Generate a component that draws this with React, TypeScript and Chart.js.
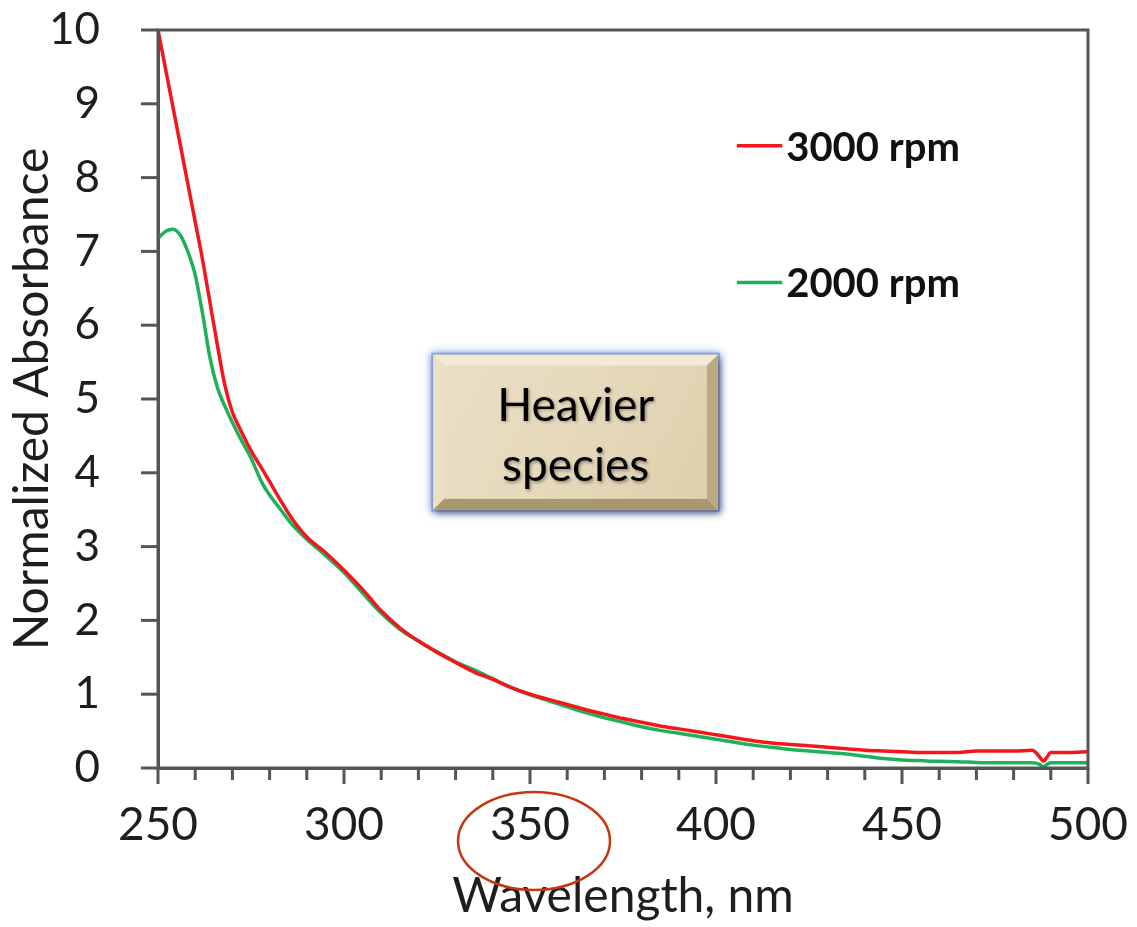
import React, { useEffect, useRef } from 'react';
import { Chart, registerables } from 'chart.js';

Chart.register(...registerables);

// ---- data ----
const wavelengths = [
  250, 252, 254, 256, 258, 260, 262, 264, 266, 268, 270, 272, 275, 278, 280, 283, 286, 290, 295,
  300, 305, 310, 315, 320, 325, 330, 335, 340, 345, 350, 355, 360, 365, 370, 375, 380, 385, 390,
  395, 400, 405, 410, 415, 420, 425, 430, 435, 440, 445, 450, 455, 460, 465, 470, 475, 480, 485,
  487, 488, 489, 490, 495, 500,
];

const rpm3000 = [
  10.0, 9.48, 8.96, 8.44, 7.92, 7.4, 6.88, 6.3, 5.72, 5.18, 4.82, 4.6, 4.3, 4.05, 3.88, 3.62, 3.38,
  3.13, 2.92, 2.68, 2.42, 2.13, 1.9, 1.72, 1.57, 1.43, 1.3, 1.2, 1.09, 1.0, 0.93, 0.86, 0.79, 0.73,
  0.67, 0.62, 0.57, 0.53, 0.49, 0.45, 0.41, 0.37, 0.34, 0.32, 0.3, 0.28, 0.26, 0.24, 0.23, 0.22,
  0.21, 0.21, 0.21, 0.23, 0.23, 0.23, 0.24, 0.15, 0.09, 0.15, 0.21, 0.21, 0.22,
];

const rpm2000 = [
  7.18, 7.27, 7.3, 7.22, 7.0, 6.68, 6.15, 5.55, 5.15, 4.9, 4.68, 4.48, 4.2, 3.86, 3.7, 3.5, 3.3,
  3.1, 2.88, 2.65, 2.37, 2.1, 1.88, 1.72, 1.57, 1.44, 1.33, 1.21, 1.09, 0.99, 0.91, 0.83, 0.75,
  0.68, 0.62, 0.56, 0.51, 0.47, 0.43, 0.39, 0.35, 0.31, 0.28, 0.25, 0.23, 0.21, 0.19, 0.16, 0.13,
  0.11, 0.1, 0.09, 0.085, 0.075, 0.07, 0.07, 0.07, 0.05, 0.02, 0.05, 0.07, 0.07, 0.07,
];

const seriesLabels = ['3000 rpm', '2000 rpm'];
const seriesColors = ['#f5161b', '#1fb15a'];
const xMajorTicks = [250, 300, 350, 400, 450, 500];
const annotationLines = ['Heavier', 'species'];
const xTitle = 'Wavelength, nm';
const yTitle = 'Normalized Absorbance';

const FONT = 'Lato, "Open Sans", sans-serif';
const AXIS_COLOR = '#555555';
const TEXT_COLOR = '#1e1e1e';

const decorPlugin = {
  id: 'decor',
  afterDraw(chart: any) {
    const { ctx, chartArea: a, scales } = chart;
    const x = scales.x;
    const y = scales.y;
    ctx.save();

    // frame
    ctx.strokeStyle = AXIS_COLOR;
    ctx.lineWidth = 3;
    ctx.strokeRect(a.left, a.top, a.right - a.left, a.bottom - a.top);

    // x ticks (minor every 10, major every 50)
    x.ticks.forEach((t: any) => {
      const px = x.getPixelForValue(t.value);
      const len = xMajorTicks.includes(t.value) ? 16 : 12;
      ctx.beginPath();
      ctx.moveTo(px, a.bottom);
      ctx.lineTo(px, a.bottom + len);
      ctx.stroke();
    });
    // y ticks
    y.ticks.forEach((t: any) => {
      const py = y.getPixelForValue(t.value);
      ctx.beginPath();
      ctx.moveTo(a.left - 17, py);
      ctx.lineTo(a.left, py);
      ctx.stroke();
    });

    // legend
    chart.data.datasets.forEach((ds: any, i: number) => {
      const ly = y.getPixelForValue(i === 0 ? 8.43 : 6.58);
      const lx0 = x.getPixelForValue(405.6);
      const lx1 = x.getPixelForValue(417.8);
      ctx.strokeStyle = ds.borderColor;
      ctx.lineWidth = 3.5;
      ctx.beginPath();
      ctx.moveTo(lx0, ly);
      ctx.lineTo(lx1, ly);
      ctx.stroke();
      ctx.fillStyle = '#111';
      ctx.font = `bold 40px ${FONT}`;
      ctx.textAlign = 'left';
      ctx.textBaseline = 'middle';
      ctx.fillText(ds.label, lx1 + 4, ly + 2);
    });

    // annotation box
    const bx0 = x.getPixelForValue(324);
    const bx1 = x.getPixelForValue(400.5);
    const by0 = y.getPixelForValue(5.6);
    const by1 = y.getPixelForValue(3.5);
    const bw = bx1 - bx0;
    const bh = by1 - by0;
    ctx.save();
    ctx.shadowColor = 'rgba(60,100,200,0.75)';
    ctx.shadowBlur = 8;
    ctx.fillStyle = '#8fa6dc';
    ctx.fillRect(bx0 - 2, by0 - 2, bw + 4, bh + 4);
    ctx.restore();
    ctx.save();
    ctx.shadowColor = 'rgba(40,40,40,0.45)';
    ctx.shadowBlur = 6;
    ctx.shadowOffsetX = 3;
    ctx.shadowOffsetY = 4;
    ctx.fillStyle = '#e3d5b4';
    ctx.fillRect(bx0, by0, bw, bh);
    ctx.restore();
    const bev = 11;
    ctx.fillStyle = '#f3ead6';
    ctx.beginPath();
    ctx.moveTo(bx0, by0); ctx.lineTo(bx1, by0); ctx.lineTo(bx1 - bev, by0 + bev); ctx.lineTo(bx0 + bev, by0 + bev); ctx.closePath(); ctx.fill();
    ctx.fillStyle = '#ece0c4';
    ctx.beginPath();
    ctx.moveTo(bx0, by0); ctx.lineTo(bx0 + bev, by0 + bev); ctx.lineTo(bx0 + bev, by1 - bev); ctx.lineTo(bx0, by1); ctx.closePath(); ctx.fill();
    ctx.fillStyle = '#a8966c';
    ctx.beginPath();
    ctx.moveTo(bx0, by1); ctx.lineTo(bx0 + bev, by1 - bev); ctx.lineTo(bx1 - bev, by1 - bev); ctx.lineTo(bx1, by1); ctx.closePath(); ctx.fill();
    ctx.fillStyle = '#bba97f';
    ctx.beginPath();
    ctx.moveTo(bx1, by0); ctx.lineTo(bx1, by1); ctx.lineTo(bx1 - bev, by1 - bev); ctx.lineTo(bx1 - bev, by0 + bev); ctx.closePath(); ctx.fill();
    const g = ctx.createLinearGradient(bx0, by0, bx1, by1);
    g.addColorStop(0, '#eadfc6');
    g.addColorStop(0.5, '#e6d9bb');
    g.addColorStop(1, '#ddcdab');
    ctx.fillStyle = g;
    ctx.fillRect(bx0 + bev, by0 + bev, bw - 2 * bev, bh - 2 * bev);
    ctx.save();
    ctx.shadowColor = 'rgba(0,0,0,0.35)';
    ctx.shadowBlur = 3;
    ctx.shadowOffsetX = 1.5;
    ctx.shadowOffsetY = 1.5;
    ctx.fillStyle = '#000';
    ctx.font = `46px ${FONT}`;
    ctx.textAlign = 'center';
    ctx.textBaseline = 'middle';
    const cx = (bx0 + bx1) / 2;
    ctx.fillText(annotationLines[0], cx, by0 + bh * 0.33);
    ctx.fillText(annotationLines[1], cx, by0 + bh * 0.72);
    ctx.restore();

    // red ellipse around the 350 label
    const ex = x.getPixelForValue(350) + 4;
    ctx.strokeStyle = '#c4380f';
    ctx.lineWidth = 2.5;
    ctx.beginPath();
    ctx.ellipse(ex, a.bottom + 73, 76, 49, 0, 0, Math.PI * 2);
    ctx.stroke();

    ctx.restore();
  },
};

export default function App() {
  const ref = useRef<HTMLCanvasElement | null>(null);

  useEffect(() => {
    if (!ref.current) return;
    const chart = new Chart(ref.current, {
      type: 'line',
      data: {
        labels: wavelengths,
        datasets: [
          {
            label: seriesLabels[0],
            data: wavelengths.map((w, i) => ({ x: w, y: rpm3000[i] })),
            borderColor: seriesColors[0],
            backgroundColor: seriesColors[0],
            borderWidth: 3.5,
            pointRadius: 0,
            cubicInterpolationMode: 'monotone',
          },
          {
            label: seriesLabels[1],
            data: wavelengths.map((w, i) => ({ x: w, y: rpm2000[i] })),
            borderColor: seriesColors[1],
            backgroundColor: seriesColors[1],
            borderWidth: 3.5,
            pointRadius: 0,
            cubicInterpolationMode: 'monotone',
          },
        ],
      },
      options: {
        animation: false,
        responsive: true,
        maintainAspectRatio: false,
        layout: { padding: { top: 30, right: 49, left: 0, bottom: 0 } },
        plugins: { legend: { display: false }, tooltip: { enabled: false } },
        scales: {
          x: {
            type: 'linear',
            min: 250,
            max: 500,
            afterFit: (s: any) => { s.height = 159; },
            grid: { drawOnChartArea: false, tickLength: 26, tickColor: 'rgba(0,0,0,0)' },
            border: { display: true, color: AXIS_COLOR, width: 3 },
            ticks: {
              stepSize: 10,
              autoSkip: false,
              maxRotation: 0,
              padding: 4,
              color: TEXT_COLOR,
              font: { family: FONT, size: 46 },
              callback: (v: any) => (xMajorTicks.includes(Number(v)) ? String(v) : ''),
            },
            title: {
              display: true,
              text: xTitle,
              color: TEXT_COLOR,
              font: { family: FONT, size: 48 },
              padding: { top: 0, bottom: 2 },
            },
          },
          y: {
            min: 0,
            max: 10,
            afterFit: (s: any) => { s.width = 158; },
            grid: { drawOnChartArea: false, tickLength: 52, tickColor: 'rgba(0,0,0,0)' },
            border: { display: true, color: AXIS_COLOR, width: 3 },
            ticks: {
              stepSize: 1,
              padding: 6,
              color: TEXT_COLOR,
              font: { family: FONT, size: 44, lineHeight: 1 },
            },
            title: {
              display: true,
              text: yTitle,
              color: TEXT_COLOR,
              font: { family: FONT, size: 48 },
              padding: { top: 4, bottom: 0 },
            },
          },
        },
      },
      plugins: [decorPlugin],
    } as any);
    return () => chart.destroy();
  }, []);

  return (
    <div style={{ position: 'absolute', left: 0, top: 0, width: 1137, height: 927, background: '#fff' }}>
      <canvas ref={ref} />
    </div>
  );
}
